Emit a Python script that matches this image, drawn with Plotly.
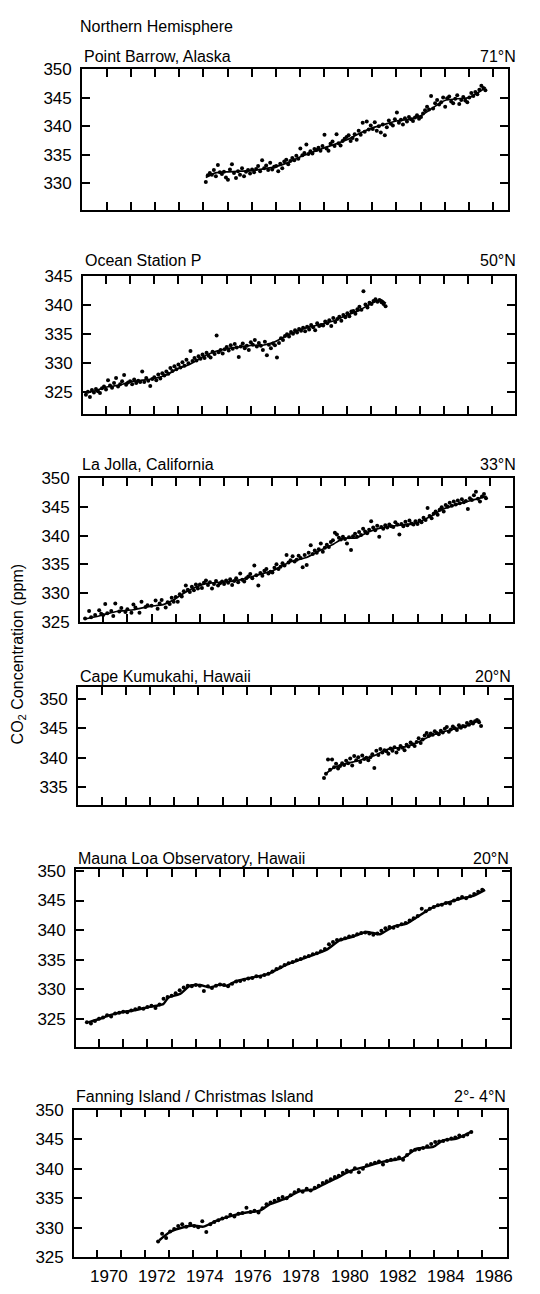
import plotly.graph_objects as go

W, H = 540, 1294

# ------------------------------------------------------------------ data
tick_years = list(range(1970, 1987))
label_years = [1970, 1972, 1974, 1976, 1978, 1980, 1982, 1984, 1986]

station_names = ["Point Barrow, Alaska", "Ocean Station P", "La Jolla, California",
                 "Cape Kumukahi, Hawaii", "Mauna Loa Observatory, Hawaii",
                 "Fanning Island / Christmas Island"]
station_lats = ["71°N", "50°N", "33°N", "20°N", "20°N", "2°- 4°N"]

# Point Barrow: monthly values from 1974.1
pb_start, pb_step = 1974.1, 1 / 12
pb_vals = [
    330.2, 331.4, 331.8, 331.5, 332.3, 331.2, 333.2, 331.9, 331.6, 332.0, 331.0,
    330.6, 332.4, 333.3, 331.8, 330.9, 332.1, 331.5, 332.6, 331.2, 332.0, 332.3, 331.7,
    332.4, 331.9, 332.5, 333.0, 332.1, 334.0, 332.6, 333.1, 332.3, 333.6, 332.4, 332.9,
    333.0, 332.1, 333.4, 332.6, 333.8, 334.1, 333.3, 333.9, 334.4, 334.0, 334.8, 334.3,
    336.1, 334.9, 335.3, 336.8, 335.1, 335.6, 335.2, 336.0, 335.8, 336.2, 335.7, 336.5,
    338.5, 336.1, 335.7, 336.9, 337.3, 336.5, 338.6, 337.0, 336.6, 337.4, 337.8, 338.1,
    338.4, 337.4, 337.9, 338.6, 337.6, 339.2, 338.5, 340.6, 339.0, 340.8, 339.4, 340.1,
    339.5, 340.7, 339.2, 340.0, 338.9, 340.3, 338.4, 339.8, 341.0, 340.4, 340.1, 341.2,
    342.4, 340.6, 341.1, 340.3, 341.4, 340.8, 341.6, 341.2, 340.9, 341.5, 341.9, 341.3,
    341.6, 342.2, 342.8, 343.4, 342.9, 345.3, 343.1, 344.0, 344.6, 343.8, 344.2, 345.0,
    343.4, 344.9, 345.2, 344.3, 344.0, 344.8, 345.4, 343.9, 344.6, 345.1, 344.5, 344.2,
    345.0, 345.8, 345.3, 346.0, 345.6, 346.4, 347.1, 346.7, 346.3,
]
pb_curve_x = [1974.1, 1974.5, 1975.0, 1975.5, 1976.0, 1976.5, 1977.0, 1977.5, 1978.0, 1978.5,
              1979.0, 1979.5, 1980.0, 1980.5, 1981.0, 1981.5, 1982.0, 1982.5, 1983.0, 1983.5,
              1984.0, 1984.5, 1985.0, 1985.5, 1985.7]
pb_curve_y = [331.0, 331.8, 332.0, 332.1, 332.2, 332.5, 332.9, 333.6, 334.6, 335.4,
              336.2, 336.9, 337.7, 338.8, 339.7, 340.3, 340.9, 341.2, 341.8, 343.2,
              344.5, 344.8, 345.0, 346.2, 346.8]

# Ocean Station P: monthly values from 1969.17
osp_start, osp_step = 1969.17, 1 / 12
osp_vals = [
    324.6, 325.1, 324.2, 325.4, 325.0, 325.6, 325.2, 324.9, 325.7, 326.0,
    325.5, 327.1, 326.2, 325.8, 326.6, 327.5, 326.0, 326.4, 326.9, 328.0, 326.3, 326.7,
    326.9, 326.4, 327.2, 326.6, 327.0, 326.8, 328.6, 326.8, 327.5, 327.0, 326.1, 327.3,
    327.6, 327.1, 328.1, 327.4, 328.3, 327.9, 328.6, 328.2, 329.2, 328.7, 329.5, 329.0,
    329.8, 329.3, 330.2, 329.6, 330.6, 330.0, 332.1, 330.4, 330.9, 330.5, 331.2, 330.8,
    331.5, 330.9, 331.8, 331.3, 331.0, 332.0, 331.6, 334.8, 331.9, 332.3, 331.7, 332.4,
    332.8, 332.2, 333.1, 332.5, 333.3, 332.7, 331.1, 332.9, 333.4, 332.6, 333.0, 332.3,
    333.6, 333.2, 334.0, 332.9, 333.5, 333.0, 332.3, 333.7, 331.4, 333.2, 332.6, 333.4,
    333.1, 331.0, 333.5, 334.3, 334.0, 334.7, 335.0, 334.6, 335.4, 335.1, 335.7, 335.3,
    335.9, 335.6, 336.1, 335.5, 336.3, 335.8, 336.6, 336.2, 335.7, 336.9, 336.4, 336.6,
    336.5, 337.2, 336.9, 337.4, 336.4, 337.8, 337.1, 337.6, 338.0, 337.3, 338.3, 337.9,
    338.6, 338.1, 338.9, 339.0, 338.5, 339.3, 339.7, 339.2, 342.4, 340.1, 339.6, 340.4,
    340.2, 340.7, 341.0, 340.6, 340.9, 340.5, 340.2, 339.8,
]
osp_curve_x = [1969.2, 1969.5, 1970.0, 1970.5, 1971.0, 1971.5, 1972.0, 1972.5, 1973.0, 1973.5,
               1974.0, 1974.5, 1975.0, 1975.5, 1976.0, 1976.5, 1977.0, 1977.5, 1978.0, 1978.5,
               1979.0, 1979.5, 1980.0, 1980.5, 1981.0, 1981.4, 1981.6]
osp_curve_y = [325.0, 325.2, 325.9, 326.2, 326.8, 327.1, 327.4, 328.0, 329.1, 329.9,
               331.1, 332.0, 332.5, 332.8, 333.1, 333.1, 333.7, 334.8, 335.7, 336.3,
               336.8, 337.4, 338.3, 339.1, 340.3, 340.9, 340.3]

# La Jolla: monthly values from 1969.25 (None = no sample)
lj_start, lj_step = 1969.25, 1 / 12
lj_vals = [
    325.6, None, 326.9, 325.8, None, 326.2, None, 327.0, 326.4,
    326.2, 328.1, 326.5, None, 326.9, 326.0, 328.2, None, 326.8, 327.4, None, 326.7,
    327.2, None, 326.6, 328.0, 327.5, None, 326.6, 328.5, None, 327.6, 327.9, None,
    327.8, None, 328.7, 327.3, 328.2, 328.8, None, 327.5, 328.4, 328.1, 329.2, 328.5,
    329.3, 328.5, 329.8, 329.4, 330.3, 331.3, 330.6, 330.2, 331.1, 330.5, 331.5, 330.8,
    331.5, 330.9, 331.8, 332.2, 331.4, 331.9, 330.8, 331.6, 332.1, 331.3, 331.7, 332.0,
    331.6, 332.2, 331.8, 332.4, 331.4, 332.1, 332.6, 331.9, 333.4, 332.3, 332.0, 332.6,
    332.9, 333.3, 332.6, 334.8, 333.1, 331.3, 333.5, 333.0, 333.9, 334.2, 333.4, 333.7,
    333.6, 334.4, 335.0, 334.2, 334.6, 335.2, 334.8, 336.6, 335.3, 335.7, 336.4, 335.5,
    335.8, 336.5, 336.1, 334.5, 336.6, 334.9, 337.0, 338.3, 336.8, 337.4, 337.0, 337.6,
    338.6, 337.2, 337.9, 338.4, 338.0, 338.9, 339.2, 340.5, 340.2, 339.6, 339.3, 339.8,
    339.4, 338.6, 339.7, 337.5, 339.9, 340.3, 339.8, 340.6, 340.1, 341.2, 340.7, 340.4,
    341.0, 342.5, 341.4, 340.9, 341.7, 339.8, 341.5, 341.2, 341.8, 341.4, 341.9, 341.6,
    341.5, 342.3, 341.9, 340.2, 342.0, 341.6, 342.4, 341.8, 342.6, 342.1, 341.9, 342.5,
    342.0, 342.6, 342.3, 343.1, 342.7, 344.8, 343.4, 343.0, 343.8, 344.2, 343.6, 344.5,
    344.9, 344.2, 345.3, 345.0, 345.7, 345.2, 345.9, 345.4, 346.1, 345.6, 346.3, 345.8,
    346.0, 344.6, 346.5, 346.2, 347.0, 347.6, 346.4, 345.9, 346.8, 347.2, 346.5,
]
lj_curve_x = [1969.25, 1970.0, 1970.55, 1971.24, 1971.93, 1972.48, 1972.9, 1973.3, 1973.7,
              1974.28, 1974.97, 1975.66, 1976.34, 1977.03, 1977.72, 1978.41, 1978.97, 1979.52,
              1979.93, 1980.48, 1980.9, 1981.45, 1982.28, 1982.97, 1983.52, 1984.07, 1984.76,
              1985.31, 1985.86]
lj_curve_y = [325.5, 326.2, 326.8, 327.1, 327.7, 328.0, 328.8, 329.9, 330.8,
              331.7, 331.9, 332.3, 333.1, 333.9, 335.4, 336.2, 337.4, 338.5,
              339.5, 339.6, 340.5, 341.3, 341.8, 342.2, 343.3, 344.6, 345.6,
              346.2, 346.8]

# Cape Kumukahi: monthly values from 1979.2
ck_start, ck_step = 1979.2, 1 / 12
ck_vals = [
    336.6, 337.3, 339.7, 338.0, 339.7, 338.4, 339.0, 338.2, 338.6, 339.1,
    338.8, 339.5, 339.1, 339.9, 338.7, 340.3, 339.6, 340.1, 339.3, 340.4, 339.8, 340.0,
    339.6, 340.1, 340.6, 338.3, 341.2, 340.5, 341.5, 340.9, 341.3, 341.1, 340.7, 341.6,
    341.2, 341.8, 340.9, 341.5, 342.0, 341.7, 341.3, 342.2, 341.9, 342.6, 342.3, 342.0,
    342.7, 343.3, 342.5, 343.1, 343.8, 344.2, 343.7, 344.1, 343.9, 344.5, 344.2, 344.0,
    344.6, 344.3, 344.9, 345.2, 344.4, 344.8, 345.3, 345.0, 344.7, 345.5, 345.1, 345.4,
    345.3, 345.9, 345.6, 346.1, 345.8, 346.2, 346.4, 346.0, 345.4,
]
ck_curve_x = [1979.24, 1979.59, 1980.0, 1980.69, 1981.24, 1981.8, 1982.6, 1983.17, 1983.72,
              1984.41, 1985.1, 1985.66]
ck_curve_y = [337.2, 338.3, 338.9, 339.6, 340.3, 341.4, 341.9, 342.8, 343.9,
              344.7, 345.4, 346.4]

# Mauna Loa: bimonthly values from 1969.5
ml_start, ml_step = 1969.5, 1 / 6
ml_vals = [
    324.4, 324.2, 324.6,
    325.0, 325.2, 325.6, 325.4, 325.9, 326.0,
    326.2, 326.1, 326.4, 326.6, 326.8, 326.7,
    327.0, 327.2, 326.8, 327.4, 328.4, 328.7,
    328.9, 329.3, 329.8, 330.3, 330.6, 330.5,
    330.7, 330.6, 329.7, 330.5, 330.2, 330.6,
    330.8, 330.7, 330.5, 330.9, 331.3, 331.4,
    331.6, 331.8, 331.9, 332.2, 332.1, 332.4,
    332.6, 333.0, 333.4, 333.7, 334.1, 334.4,
    334.6, 334.9, 335.1, 335.4, 335.6, 335.9,
    336.1, 336.4, 336.8, 337.6, 338.0, 338.3,
    338.4, 338.6, 338.9, 339.0, 339.3, 339.5,
    339.6, 339.4, 339.2, 339.4, 339.9, 340.3,
    340.5, 340.4, 340.7, 341.0, 341.2, 341.6,
    342.0, 342.4, 343.6, 343.2, 343.6, 343.9,
    344.2, 344.3, 344.6, 344.5, 345.0, 345.3,
    345.6, 345.4, 345.7, 346.1, 346.5, 346.8,
]
ml_curve_x = [1969.56, 1970.04, 1970.45, 1970.94, 1971.42, 1971.97, 1972.38, 1972.66, 1972.87,
              1973.35, 1973.76, 1974.17, 1974.59, 1975.0, 1975.28, 1975.69, 1976.24, 1976.93,
              1977.34, 1977.89, 1978.31, 1978.86, 1979.41, 1979.96, 1980.51, 1981.06, 1981.61,
              1982.16, 1982.71, 1983.26, 1983.82, 1984.37, 1984.92, 1985.47, 1985.95]
ml_curve_y = [324.4, 325.0, 325.6, 326.1, 326.4, 326.9, 327.2, 327.5, 328.6,
              329.2, 330.6, 330.7, 330.3, 330.8, 330.6, 331.4, 331.9, 332.5,
              333.3, 334.4, 335.0, 335.8, 336.7, 338.3, 338.9, 339.7, 339.3,
              340.6, 341.1, 342.5, 343.9, 344.6, 345.3, 345.8, 346.8]

# Fanning / Christmas Island: bimonthly values from 1972.55
fi_start, fi_step = 1972.55, 1 / 6
fi_vals = [
    327.7, 329.0, 328.3,
    329.4, 329.8, 330.3, 330.6, 330.2, 330.7,
    330.3, 330.1, 331.1, 329.3, 330.6, 331.0,
    331.3, 331.6, 331.8, 332.2, 331.9, 332.4,
    332.5, 333.4, 332.7, 332.9, 332.6, 333.3,
    334.0, 334.3, 334.6, 334.9, 335.2, 335.0,
    335.5, 336.0, 336.4, 336.1, 336.6, 336.3,
    336.8, 337.1, 337.6, 337.9, 338.2, 338.6,
    338.8, 339.3, 339.7, 339.5, 340.1, 339.4,
    340.0, 340.6, 340.8, 341.0, 341.2, 340.7,
    341.3, 341.5, 341.6, 341.9, 341.5, 342.3,
    343.0, 343.2, 343.3, 343.5, 343.8, 344.2,
    344.5, 344.6, 344.7, 344.9, 345.1, 345.3,
    345.6, 345.5, 345.8, 346.2,
]
fi_curve_x = [1972.6, 1973.04, 1973.6, 1974.0, 1974.43, 1974.98, 1975.67, 1976.22, 1976.78,
              1977.19, 1977.75, 1978.44, 1979.0, 1979.54, 1980.1, 1980.51, 1981.2, 1981.9,
              1982.72, 1983.28, 1983.97, 1984.38, 1984.94, 1985.56]
fi_curve_y = [327.9, 329.3, 330.1, 330.4, 330.2, 331.2, 332.1, 332.6, 332.9,
              334.0, 334.8, 336.2, 336.5, 337.6, 338.7, 339.6, 340.4, 341.2,
              341.8, 343.4, 343.7, 344.8, 345.1, 346.3]

series = [
    (pb_start, pb_step, pb_vals, pb_curve_x, pb_curve_y),
    (osp_start, osp_step, osp_vals, osp_curve_x, osp_curve_y),
    (lj_start, lj_step, lj_vals, lj_curve_x, lj_curve_y),
    (ck_start, ck_step, ck_vals, ck_curve_x, ck_curve_y),
    (ml_start, ml_step, ml_vals, ml_curve_x, ml_curve_y),
    (fi_start, fi_step, fi_vals, fi_curve_x, fi_curve_y),
]

y_ticks = [
    [330, 335, 340, 345, 350],
    [325, 330, 335, 340, 345],
    [325, 330, 335, 340, 345, 350],
    [335, 340, 345, 350],
    [325, 330, 335, 340, 345, 350],
    [325, 330, 335, 340, 345, 350],
]
y_ranges = [[325.3, 350], [321.3, 345], [325, 350], [332, 352], [320.3, 350.3], [325, 350]]

# ------------------------------------------------------------------ layout geometry (px)
# left, right, top, bottom of each panel frame; title centre y
boxes = [
    (82, 508, 61, 204, 48),
    (83, 515, 271, 411, 255),
    (80, 513, 476, 622, 462),
    (78, 512, 688, 808, 677),
    (76, 510, 873, 1053, 862),
    (74, 507, 1117, 1267, 1104),
]
x_ranges = [[1968.97, 1986.62], [1969.05, 1986.95], [1969.04, 1986.95],
            [1969.02, 1986.98], [1969.05, 1986.98], [1969.06, 1987.03]]

FONT = "Liberation Sans, Arial, Helvetica, sans-serif"
TICKFONT = "Liberation Sans Narrow, Liberation Sans, Arial, sans-serif"

fig = go.Figure()
annotations = []

for i, (start, step, vals, cx, cy) in enumerate(series):
    xs = [start + k * step for k in range(len(vals))]
    suffix = "" if i == 0 else str(i + 1)
    dense = i >= 4
    fig.add_trace(go.Scatter(
        x=cx, y=cy, mode="lines",
        line=dict(color="black", width=2.4 if dense else 1.7, shape="spline", smoothing=0.6),
        xaxis="x" + suffix, yaxis="y" + suffix, showlegend=False, hoverinfo="skip"))
    fig.add_trace(go.Scatter(
        x=xs, y=vals, mode="markers",
        marker=dict(color="black", size=4),
        xaxis="x" + suffix, yaxis="y" + suffix, showlegend=False))

    left, right, top, bottom, ty = boxes[i]
    xd = [left / W, right / W]
    yd = [1 - bottom / H, 1 - top / H]
    common = dict(showline=True, linecolor="black", linewidth=1.7, mirror="ticks",
                  ticks="inside", ticklen=8, tickwidth=1.5, tickcolor="black",
                  showgrid=False, zeroline=False)
    fig.layout["xaxis" + suffix] = dict(
        domain=xd, range=x_ranges[i], tickvals=tick_years, showticklabels=False,
        anchor="y" + suffix, **common)
    fig.layout["yaxis" + suffix] = dict(
        domain=yd, range=y_ranges[i], tickvals=y_ticks[i],
        tickfont=dict(family=TICKFONT, size=17, color="black"),
        ticklabelstandoff=5, anchor="x" + suffix, **common)

    annotations.append(dict(text=station_names[i], xref="paper", yref="paper",
                            x=left / W, y=1 - ty / H, xanchor="left", yanchor="middle",
                            showarrow=False, font=dict(family=FONT, size=16, color="black")))
    annotations.append(dict(text=station_lats[i], xref="paper", yref="paper",
                            x=(518 if i < 3 else right + 1) / W, y=1 - ty / H,
                            xanchor="right", yanchor="middle",
                            showarrow=False, font=dict(family=FONT, size=16, color="black")))

for yr in label_years:
    annotations.append(dict(text=str(yr), xref="x6", yref="paper", x=yr + 0.5,
                            y=1 - 1286 / H, xanchor="center", yanchor="middle",
                            showarrow=False,
                            font=dict(family=TICKFONT, size=17, color="black")))

annotations.append(dict(text="Northern Hemisphere", xref="paper", yref="paper",
                        x=78 / W, y=1 - 18 / H, xanchor="left", yanchor="middle",
                        showarrow=False, font=dict(family=FONT, size=16, color="black")))
annotations.append(dict(text="CO<sub>2</sub> Concentration (ppm)", xref="paper", yref="paper",
                        x=18 / W, y=1 - 655 / H, xanchor="center", yanchor="middle",
                        textangle=-90, showarrow=False,
                        font=dict(family=FONT, size=16, color="black")))

fig.update_layout(width=W, height=H, margin=dict(l=0, r=0, t=0, b=0),
                  paper_bgcolor="white", plot_bgcolor="white",
                  annotations=annotations, showlegend=False)

fig.write_html("out.html")
